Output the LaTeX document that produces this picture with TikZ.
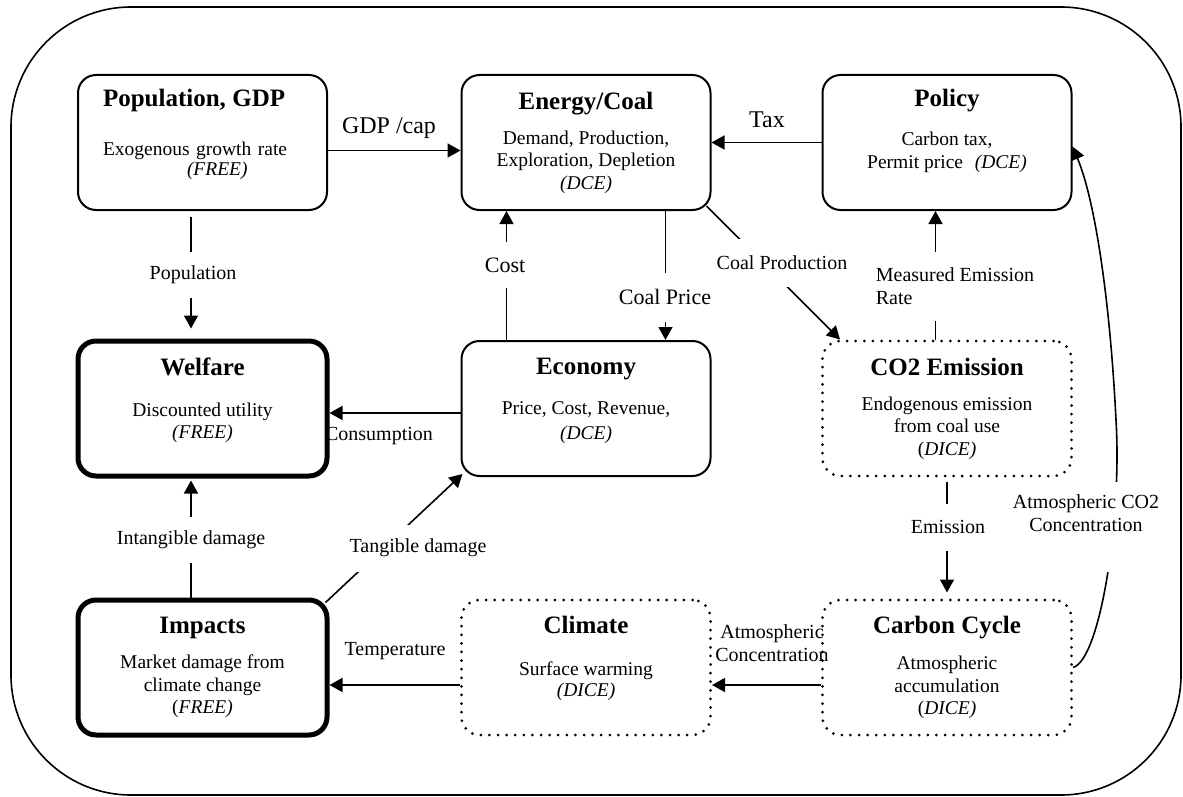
\documentclass[tikz,border=0pt]{standalone}
\usepackage{fontspec}
\setmainfont{Liberation Serif}
\usepackage{tikz}
\usetikzlibrary{arrows.meta, calc, positioning}

\newcommand{\boxtitle}[1]{{\fontsize{12.5}{15}\selectfont\bfseries #1}}
\newcommand{\padb}[1]{\rule[-#1]{0pt}{#1}}

\begin{document}
\begin{tikzpicture}[
        x=0.5pt, y=-0.5pt,
        >={Triangle[length=6.5pt, width=7pt]},
        font=\fontsize{9.75}{11.25}\selectfont,
        % Styles for the model boxes
        module/.style={
            rectangle, rounded corners=9pt, draw=black, line width=1pt, fill=white,
            minimum width=124.5pt, minimum height=67.5pt,
            align=center, inner sep=2pt
        },
        core/.style={module, line width=2.5pt},
        dice/.style={module, line width=1.5pt, dash pattern=on 0pt off 4.3pt, line cap=round},
        frame/.style={draw=black, line width=0.8pt, rounded corners=60pt},
        % Style for connecting lines and their labels
        conn/.style={draw=black, line width=0.8pt, ->},
        flowlab/.style={font=\fontsize{10}{11.25}\selectfont, align=center, inner sep=1pt},
        gapped/.style={flowlab, fill=white, minimum height=#1},
        big/.style={font=\fontsize{12}{14}\selectfont},
        medium/.style={font=\fontsize{11}{13}\selectfont}
    ]

    \useasboundingbox (0,0) rectangle (1183,797);
    \draw[frame] (11,7) rectangle (1181,795);

    % 1. MODEL BOXES
    \node[module, align=left, text width=99.5pt] (Pop) at (202.5,142.5)
        {\boxtitle{Population, GDP}\\[13.25pt] Exogenous growth rate\\[-1.25pt] \hspace*{42pt}\textit{(FREE)}\padb{10pt}};
    \node[module] (Energy) at (586,142.5)
        {\boxtitle{Energy/Coal}\\[6.25pt] Demand, Production,\\ Exploration, Depletion\\ \textit{(DCE)}};
    \node[module] (Policy) at (947,142.5)
        {\boxtitle{Policy}\\[8.25pt] Carbon tax,\\ Permit price\hspace{0.6em}\textit{(DCE)}\padb{13.5pt}};

    \node[core]   (Welf) at (202.5,408.5)
        {\boxtitle{Welfare}\\[9.25pt] Discounted utility\\ \textit{(FREE)}\padb{10.5pt}};
    \node[module] (Econ) at (586,408.5)
        {\boxtitle{Economy}\\[8.75pt] Price, Cost, Revenue,\\[1.25pt] \textit{(DCE)}\padb{9.5pt}};
    \node[dice]   (Emis) at (947,408.5)
        {\boxtitle{CO2 Emission}\\[6.25pt] Endogenous emission\\ from coal use\\ (\textit{DICE)}};

    \node[core]   (Imp)  at (202.5,667.5)
        {\boxtitle{Impacts}\\[6.25pt] Market damage from\\ climate change\\ (\textit{FREE)}};
    \node[dice]   (Clim) at (586,667.5)
        {\boxtitle{Climate}\\[9.75pt] Surface warming\\[-0.75pt] \textit{(DICE)}\padb{11.5pt}};
    \node[dice]   (Carb) at (947,667.5)
        {\boxtitle{Carbon Cycle}\\[6.75pt] Atmospheric\\ accumulation\\ (\textit{DICE)}};

    % 2. CONNECTORS
    % Population, GDP --> Energy/Coal
    \draw[conn] ([yshift=-4pt]Pop.east) -- ([yshift=-4pt]Energy.west);

    % Policy --> Energy/Coal
    \draw[conn] (Policy.west) -- (Energy.east);

    % Population, GDP --> Welfare
    \draw[conn, shorten <=3pt, shorten >=5pt] ([xshift=-5.75pt]Pop.south) -- ([xshift=-5.75pt]Welf.north);

    % Energy/Coal <--> Economy
    \draw[conn] ([xshift=39.75pt]Energy.south) -- ([xshift=39.75pt]Econ.north);
    \draw[conn] ([xshift=-39.75pt]Econ.north) -- ([xshift=-39.75pt]Energy.south);

    % Energy/Coal --> CO2 Emission
    \draw[conn] ($(Energy.south east)+(-5,-5)$) -- ($(Emis.north west)+(19,0)$);

    % CO2 Emission --> Policy, Carbon Cycle
    \draw[conn] ([xshift=-5.75pt]Emis.north) -- ([xshift=-5.75pt]Policy.south);
    \draw[conn, shorten <=2pt, shorten >=3pt] (Emis.south) -- (Carb.north);

    % Carbon Cycle --> Climate --> Impacts
    \draw[conn] ([yshift=-8.75pt]Carb.west) -- ([yshift=-8.75pt]Clim.east);
    \draw[conn] ([yshift=-8.75pt]Clim.west) -- ([yshift=-8.75pt]Imp.east);

    % Economy --> Welfare
    \draw[conn] ([yshift=-2.25pt]Econ.west) -- ([yshift=-2.25pt]Welf.east);

    % Impacts --> Welfare, Economy
    \draw[conn, shorten >=1pt] ([xshift=-5.75pt]Imp.north) -- ([xshift=-5.75pt]Welf.south);
    \draw[conn] ($(Imp.north east)+(-4,5)$) -- ($(Econ.south west)+(2,-3)$);

    % Carbon Cycle --> Policy
    \draw[conn] (Carb.east) .. controls (1100,660) and (1122,520) .. (1116,420)
        .. controls (1110,300) and (1095,200) .. ([yshift=-2pt]Policy.east);

    % 3. LABELS
    \node[flowlab, big] (L_gdp)   at (389,128)  {GDP /cap};
    \node[flowlab, big] (L_tax)   at (767,120)  {Tax};
    \node[gapped=23pt]  (L_pop)   at (193,275)  {Population};
    \node[gapped=23pt, medium]   (L_cost)  at (505,265) {Cost};
    \node[gapped=24.5pt, medium] (L_price) at (665,297) {Coal Price};
    \node[gapped=24pt]  (L_prod)  at (782,263)  {Coal Production};
    \node[gapped=34.5pt, align=left] (L_meas) at (955,286) {Measured Emission\\Rate};
    \node[flowlab]      (L_cons)  at (379,436)  {Consumption};
    \node[gapped=23pt]  (L_intan) at (191,540)  {Intangible damage};
    \node[gapped=23.5pt] (L_tan)  at (418,548)  {Tangible damage};
    \node[flowlab]      (L_temp)  at (395,651)  {Temperature};
    \node[flowlab]      (L_atm)   at (772,643)  {Atmospheric\\Concentration};
    \node[gapped=23.5pt] (L_emis) at (948,527)  {Emission};
    \node[gapped=45pt]  (L_co2)   at (1086,527) {Atmospheric CO2\\Concentration\padb{14pt}};

\end{tikzpicture}
\end{document}
